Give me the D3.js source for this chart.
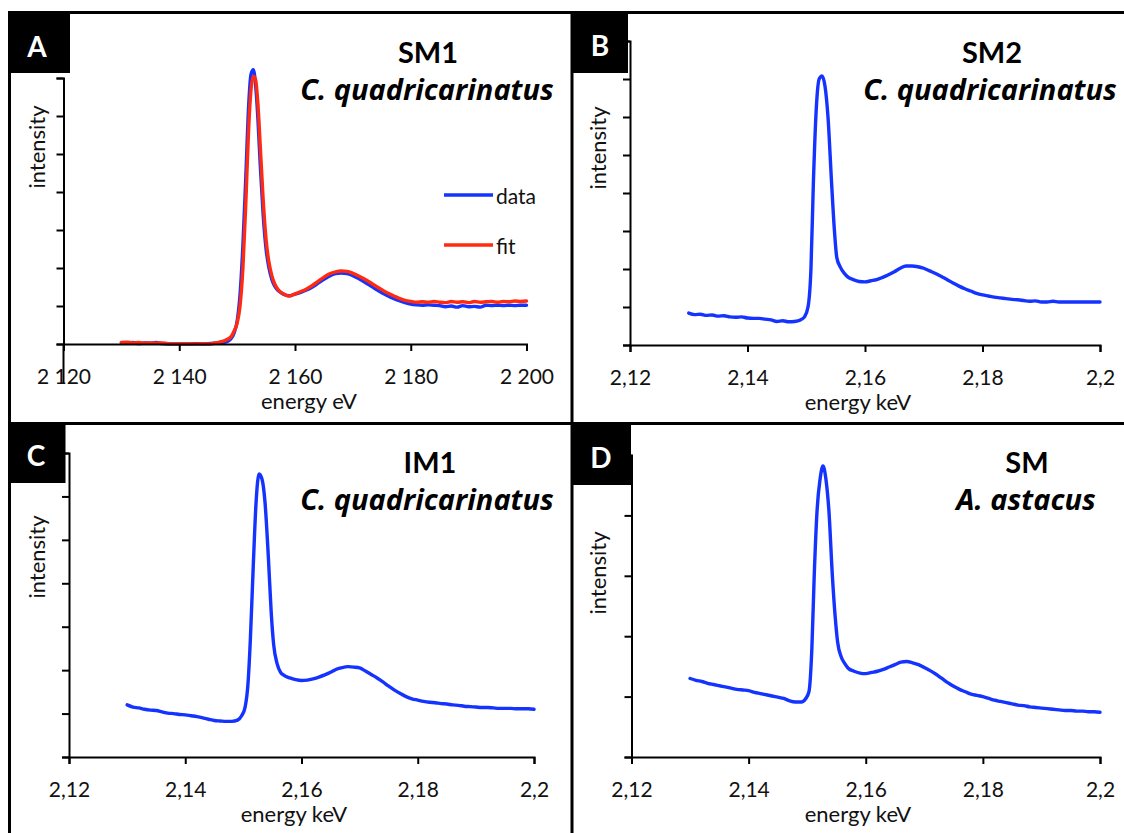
<!DOCTYPE html>
<html><head><meta charset="utf-8">
<script src="https://cdn.jsdelivr.net/npm/d3@7"></script>
<style>
html,body{margin:0;padding:0;background:#fff;}
svg{display:block;font-family:Lato,"Open Sans",sans-serif;}
</style></head>
<body>
<svg id="c" width="1124" height="833"></svg>
<script>
// ---------- DATA ----------
const panelLetters = ["A","B","C","D"];
const sampleNames = ["SM1","SM2","IM1","SM"];
const speciesNames = ["C. quadricarinatus","C. quadricarinatus","C. quadricarinatus","A. astacus"];
const xTicksEV = [2120, 2140, 2160, 2180, 2200];
const xTickLabelsEV = ["2 120","2 140","2 160","2 180","2 200"];
const xTicksKeV = [2.12, 2.14, 2.16, 2.18, 2.2];
const xTickLabelsKeV = ["2,12","2,14","2,16","2,18","2,2"];
const legendLabels = ["data","fit"];

// Panel A (eV)
const energyA = [2130,2131,2132,2133,2134,2135,2136,2137,2138,2139,2140,2141,2142,2143,2144,2145,2146,2147,2148,2149,2149.5,2150,2150.5,2151,2151.5,2152,2152.4,2152.8,2153.2,2153.6,2154,2154.5,2155,2155.5,2156,2156.5,2157,2157.5,2158,2159,2160,2161,2162,2163,2164,2165,2166,2167,2168,2169,2170,2171,2172,2173,2174,2175,2176,2177,2178,2179,2180,2181,2182,2183,2184,2185,2186,2187,2188,2189,2190,2191,2192,2193,2194,2195,2196,2197,2198,2199,2200];
const dataA = [0.03,0.02,0.04,0.01,0.03,0.02,0.04,0.01,0.0,0.0,0.0,0.0,0.0,0.01,0.0,0.01,0.02,0.04,0.05,0.15,0.3,0.6,1.3,2.6,4.4,6.3,7.1,7.22,6.8,5.9,4.7,3.4,2.5,2.0,1.7,1.52,1.42,1.36,1.31,1.27,1.31,1.36,1.42,1.5,1.6,1.7,1.79,1.85,1.87,1.85,1.8,1.72,1.63,1.54,1.44,1.35,1.27,1.2,1.14,1.09,1.05,1.03,1.02,1.03,1.02,1.01,0.98,1.0,0.97,1.01,0.98,0.99,0.97,1.02,1.01,1.02,1.01,1.02,1.01,1.02,1.02];
const fitA = [0.04,0.05,0.03,0.04,0.02,0.03,0.02,0.03,0.01,0.0,0.0,0.0,0.0,0.0,0.01,0.0,0.02,0.05,0.1,0.2,0.35,0.55,1.0,2.0,3.7,5.7,6.7,7.05,6.95,6.3,5.2,3.8,2.75,2.15,1.8,1.58,1.45,1.37,1.32,1.26,1.32,1.38,1.45,1.54,1.65,1.76,1.85,1.9,1.92,1.91,1.86,1.79,1.71,1.62,1.52,1.43,1.34,1.27,1.2,1.15,1.12,1.1,1.11,1.1,1.12,1.1,1.09,1.12,1.1,1.11,1.09,1.12,1.1,1.11,1.12,1.1,1.12,1.11,1.13,1.12,1.13];

// Panels B, C, D (keV) share one energy grid
const energyKeV = [2.130,2.131,2.132,2.133,2.134,2.135,2.136,2.137,2.138,2.139,2.140,2.141,2.142,2.143,2.144,2.145,2.146,2.147,2.148,2.149,2.1497,2.1503,2.1508,2.1512,2.1517,2.1522,2.1527,2.1532,2.1537,2.1543,2.1548,2.1552,2.1558,2.1564,2.157,2.158,2.159,2.160,2.161,2.162,2.163,2.164,2.165,2.166,2.167,2.168,2.169,2.170,2.171,2.172,2.173,2.174,2.175,2.176,2.177,2.178,2.179,2.180,2.181,2.182,2.183,2.184,2.185,2.186,2.187,2.188,2.189,2.190,2.191,2.192,2.193,2.194,2.195,2.196,2.197,2.198,2.199,2.200];
const dataB = [0.84,0.80,0.81,0.78,0.79,0.76,0.77,0.74,0.73,0.74,0.71,0.70,0.70,0.68,0.66,0.62,0.64,0.61,0.62,0.66,0.74,1.0,2.0,4.2,6.2,7.0,7.08,6.8,6.0,4.3,3.0,2.3,2.05,1.9,1.8,1.72,1.67,1.66,1.69,1.72,1.78,1.85,1.93,2.02,2.08,2.08,2.06,2.02,1.95,1.88,1.8,1.72,1.63,1.55,1.48,1.42,1.36,1.32,1.29,1.26,1.24,1.22,1.2,1.19,1.17,1.15,1.16,1.13,1.13,1.15,1.13,1.13,1.13,1.13,1.13,1.13,1.13,1.13];
const dataC = [1.2,1.15,1.13,1.1,1.08,1.07,1.04,1.01,1.0,0.98,0.97,0.95,0.93,0.9,0.87,0.84,0.83,0.82,0.82,0.85,0.95,1.15,1.7,2.7,4.4,5.9,6.52,6.4,5.9,4.6,3.3,2.6,2.15,1.95,1.88,1.82,1.78,1.76,1.77,1.8,1.84,1.89,1.95,2.02,2.06,2.08,2.07,2.05,1.98,1.9,1.82,1.73,1.63,1.54,1.46,1.39,1.34,1.31,1.28,1.26,1.25,1.23,1.22,1.2,1.19,1.17,1.16,1.15,1.14,1.14,1.13,1.12,1.12,1.12,1.11,1.11,1.11,1.1];
const dataD = [1.3,1.27,1.25,1.22,1.2,1.18,1.16,1.14,1.12,1.11,1.1,1.07,1.05,1.03,1.01,0.99,0.97,0.93,0.91,0.91,0.96,1.08,1.8,3.0,4.1,4.6,4.82,4.6,4.09,3.0,2.3,1.9,1.66,1.55,1.47,1.42,1.39,1.38,1.4,1.42,1.45,1.49,1.53,1.57,1.58,1.56,1.53,1.48,1.43,1.37,1.3,1.23,1.17,1.12,1.08,1.04,1.02,1.0,0.97,0.94,0.92,0.9,0.88,0.86,0.85,0.83,0.82,0.81,0.8,0.79,0.78,0.77,0.77,0.76,0.76,0.75,0.75,0.74];

// y-axis maxima (units of tick steps)
const yMaxes = [7, 8, 7, 5];

// ---------- DRAW ----------
const svg = d3.select("#c");
const BLUE = "#1433ff", RED = "#ff2a10";

const panels = [
  {x0:63.5, x1:526.5, y0:344, y1:78,  xd:[2120,2200], ticks:xTicksEV, labels:xTickLabelsEV, xt:"energy eV", xtx:309,
   series:[{e:energyA, v:dataA, c:BLUE},{e:energyA, v:fitA, c:RED}],
   box:[8,11,62,62], lx:37, ly:57, tx:428, ty:63, sx:427, sy:100, itx:45, ity:147, extra:true},
  {x0:630, x1:1100, y0:345, y1:41, xd:[2.12,2.2], ticks:xTicksKeV, labels:xTickLabelsKeV, xt:"energy keV", xtx:858,
   series:[{e:energyKeV, v:dataB, c:BLUE}],
   box:[572,13,56,60], lx:600, ly:56, tx:992, ty:63, sx:990, sy:100, itx:606, ity:148},
  {x0:69, x1:534, y0:757, y1:453, xd:[2.12,2.2], ticks:xTicksKeV, labels:xTickLabelsKeV, xt:"energy keV", xtx:294,
   series:[{e:energyKeV, v:dataC, c:BLUE}],
   box:[8,423,57.5,60], lx:36, ly:466, tx:430, ty:473, sx:427, sy:510, itx:45, ity:557},
  {x0:631.5, x1:1100, y0:757, y1:455, xd:[2.12,2.2], ticks:xTicksKeV, labels:xTickLabelsKeV, xt:"energy keV", xtx:858,
   series:[{e:energyKeV, v:dataD, c:BLUE}],
   box:[572,423,59,62], lx:601, ly:468, tx:1027, ty:473, sx:1026, sy:510, itx:606, ity:573}
];

// frames
const frame = svg.append("g").attr("stroke","#000").attr("stroke-width",3);
frame.append("line").attr("x1",8).attr("x2",1124).attr("y1",12.5).attr("y2",12.5);
frame.append("line").attr("x1",9.5).attr("x2",9.5).attr("y1",11).attr("y2",833);
frame.append("line").attr("x1",572).attr("x2",572).attr("y1",11).attr("y2",833);
frame.append("line").attr("x1",8).attr("x2",1124).attr("y1",423.5).attr("y2",423.5);

panels.forEach((p,i)=>{
  const g = svg.append("g");
  const x = d3.scaleLinear().domain(p.xd).range([p.x0,p.x1]);
  const y = d3.scaleLinear().domain([0,yMaxes[i]]).range([p.y0,p.y1]);

  // series
  p.series.forEach(s=>{
    const pts = s.e.map((e,k)=>[e,s.v[k]]);
    g.append("path").datum(pts)
      .attr("fill","none").attr("stroke",s.c).attr("stroke-width",3.4)
      .attr("stroke-linejoin","round").attr("stroke-linecap","round")
      .attr("d", d3.line().x(d=>x(d[0])).y(d=>y(d[1])).curve(d3.curveMonotoneX));
  });

  // y axis
  const ya = g.append("g").attr("transform",`translate(${p.x0},0)`)
    .call(d3.axisLeft(y).tickValues(d3.range(0,yMaxes[i]+1)).tickSize(7).tickFormat(""));
  // x axis
  const xa = g.append("g").attr("transform",`translate(0,${p.y0})`)
    .call(d3.axisBottom(x).tickValues(p.ticks).tickSize(7).tickPadding(18)
      .tickFormat((d,k)=>p.labels[k]));
  [ya,xa].forEach(a=>{
    a.selectAll("path,line").attr("stroke","#000").attr("stroke-width",2);
    a.select(".domain").attr("stroke-width",2);
    a.selectAll("text").attr("fill","#111").style("font-size","21px").style("font-family","Lato, 'Open Sans', sans-serif");
  });
  if(p.extra){
    g.append("line").attr("x1",p.x0).attr("x2",p.x0).attr("y1",p.y0).attr("y2",p.y0+39)
      .attr("stroke","#000").attr("stroke-width",2);
  }

  // axis titles
  g.append("text").attr("x",p.xtx).attr("y",p.y0+65)
    .attr("text-anchor","middle").style("font-size","22px").attr("fill","#111").text(p.xt);
  g.append("text").attr("transform",`translate(${p.itx},${p.ity}) rotate(-90)`)
    .attr("text-anchor","middle").style("font-size","22px").attr("fill","#111").text("intensity");

  // titles
  g.append("text").attr("x",p.tx).attr("y",p.ty).attr("text-anchor","middle")
    .style("font-size","29px").style("font-weight","bold").attr("fill","#000").text(sampleNames[i]);
  g.append("text").attr("x",p.sx).attr("y",p.sy).attr("text-anchor","middle")
    .style("font-family","'Open Sans', Lato, sans-serif")
    .style("font-size","29px").style("font-weight","bold").style("font-style","italic").attr("fill","#000").text(speciesNames[i]);

  // label box
  g.append("rect").attr("x",p.box[0]).attr("y",p.box[1]).attr("width",p.box[2]).attr("height",p.box[3]).attr("fill","#000");
  g.append("text").attr("x",p.lx).attr("y",p.ly).attr("text-anchor","middle")
    .style("font-size","28px").style("font-weight","bold").attr("fill","#fff").text(panelLetters[i]);

  // legend (panel A)
  if(i===0){
    const lg = g.append("g");
    [BLUE,RED].forEach((c,k)=>{
      const yy = 195 + k*50;
      lg.append("line").attr("x1",444).attr("x2",493).attr("y1",yy).attr("y2",yy)
        .attr("stroke",c).attr("stroke-width",3.5);
      lg.append("text").attr("x",496).attr("y",yy+9).style("font-size","21px").attr("fill","#111").text(legendLabels[k]);
    });
  }
});
</script>
</body></html>
